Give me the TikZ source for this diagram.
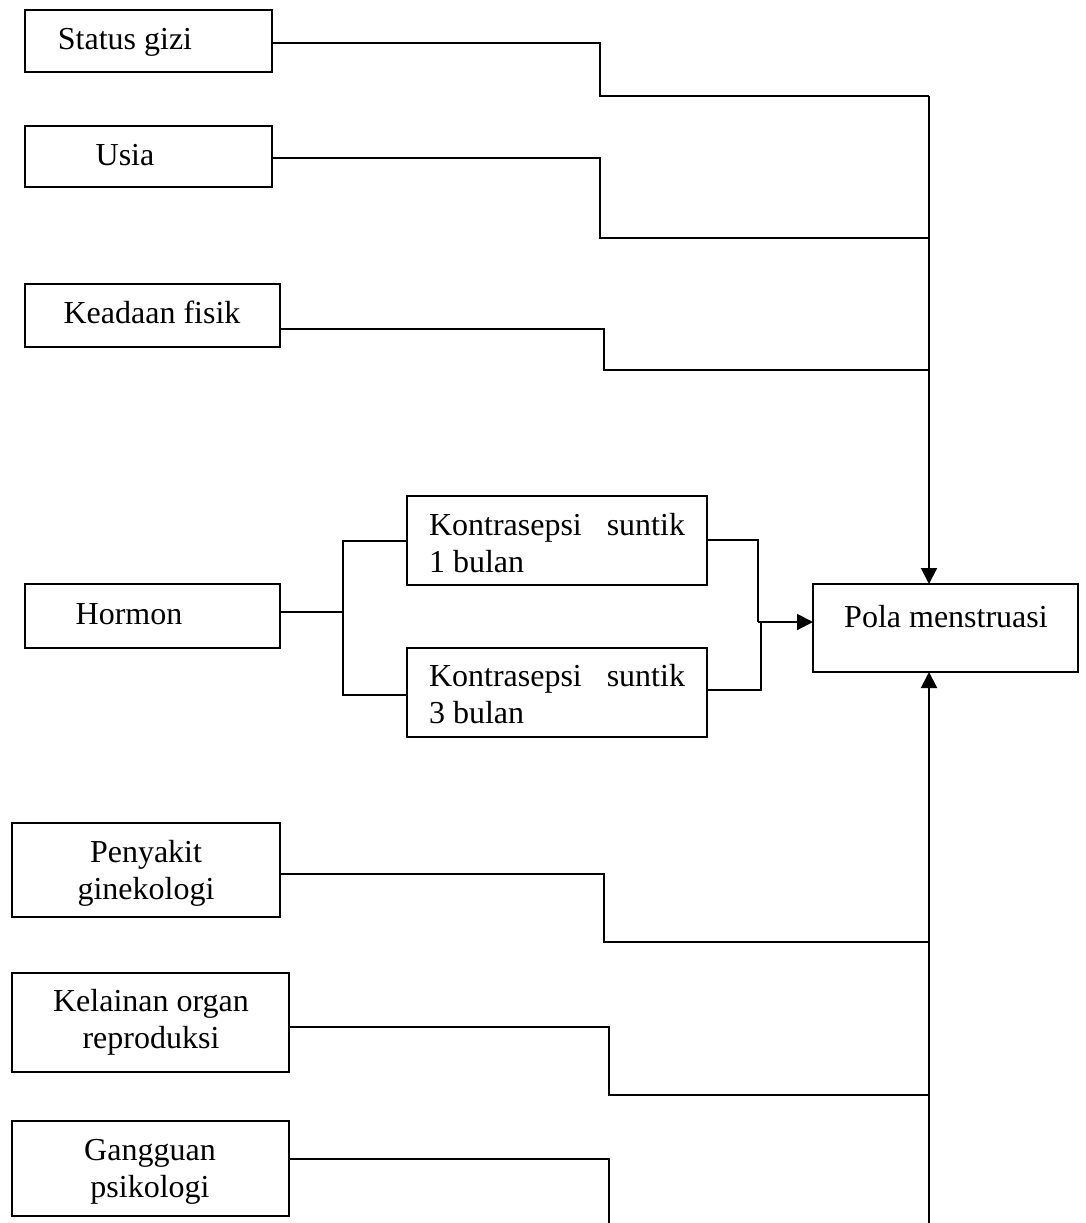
\documentclass[tikz,border=0pt]{standalone}
\usepackage{fontspec}
\setmainfont{Liberation Serif}
\usetikzlibrary{arrows.meta,fit}
\begin{document}
\begin{tikzpicture}[x=1pt,y=-1pt,
  box/.style={draw,line width=2pt,inner sep=0pt,outer sep=0pt},
  txt/.style={font=\fontsize{32}{36.5}\selectfont,inner sep=0pt,outer sep=0pt},
  conn/.style={draw,line width=2pt},
  arr/.style={conn,-{Triangle[length=16pt,width=16pt]}}]
\useasboundingbox (0,0) rectangle (1086,1223);
% boxes
\node[box,fit={(25,10) (272,72)}] (sg) {};
\node[box,fit={(25,126) (272,187)}] (us) {};
\node[box,fit={(25,284) (280,347)}] (kf) {};
\node[box,fit={(25,584) (280,648)}] (hm) {};
\node[box,fit={(407,496) (707,585)}] (k1) {};
\node[box,fit={(407,648) (707,737)}] (k2) {};
\node[box,fit={(813,584) (1078,672)}] (pola) {};
\node[box,fit={(12,823) (280,917)}] (pg) {};
\node[box,fit={(12,973) (289,1072)}] (ko) {};
\node[box,fit={(12,1121) (289,1216)}] (gp) {};
% texts (base anchor of a multi-line node = baseline of its last line)
\node[txt,anchor=base] (sgT) at (125,50) {Status gizi};
\node[txt,anchor=base] (usT) at (125,165) {Usia};
\node[txt,anchor=base] (kfT) at (152,323) {Keadaan fisik};
\node[txt,anchor=base] (hmT) at (129,624) {Hormon};
\node[txt,anchor=base west,align=left] (k1T) at (429,572) {\makebox[256pt][s]{Kontrasepsi\hfill suntik}\\1 bulan};
\node[txt,anchor=base west,align=left] (k2T) at (429,723) {\makebox[256pt][s]{Kontrasepsi\hfill suntik}\\3 bulan};
\node[txt,anchor=base] (polaT) at (946,627) {Pola menstruasi};
\node[txt,anchor=base,align=center] (pgT) at (146,899) {Penyakit\\ginekologi};
\node[txt,anchor=base,align=center] (koT) at (151,1048) {Kelainan organ\\reproduksi};
\node[txt,anchor=base,align=center] (gpT) at (150,1197) {Gangguan\\psikologi};
% junction coordinates
\coordinate (tt) at (929,96);
\coordinate (tb) at (929,1223);
\coordinate (hj) at (343,612);
\coordinate (mj) at (758,622);
% connectors from top
\draw[conn] (sg.east |- 0,43) -| (600,96) -- (tt);
\draw[arr] (tt) -- (pola.north -| tt);
\draw[conn] (us.east |- 0,158) -| (600,238) -- (929,238);
\draw[conn] (kf.east |- 0,329) -| (604,370) -- (929,370);
% hormon branch
\draw[conn] (hm.east |- hj) -- (hj);
\draw[conn] (k1.west |- 0,541) -| (hj) |- (k2.west |- 0,695);
\draw[conn] (k1.east |- 0,540) -| (mj);
\draw[conn] (k2.east |- 0,690) -| (761,622) -- (mj);
\draw[arr] (mj) -- (pola.west |- mj);
% connectors from bottom
\draw[arr] (tb) -- (pola.south -| tb);
\draw[conn] (pg.east |- 0,874) -| (604,942) -- (929,942);
\draw[conn] (ko.east |- 0,1027) -| (609,1095) -- (929,1095);
\draw[conn] (gp.east |- 0,1159) -| (609,1223);
\end{tikzpicture}
\end{document}
